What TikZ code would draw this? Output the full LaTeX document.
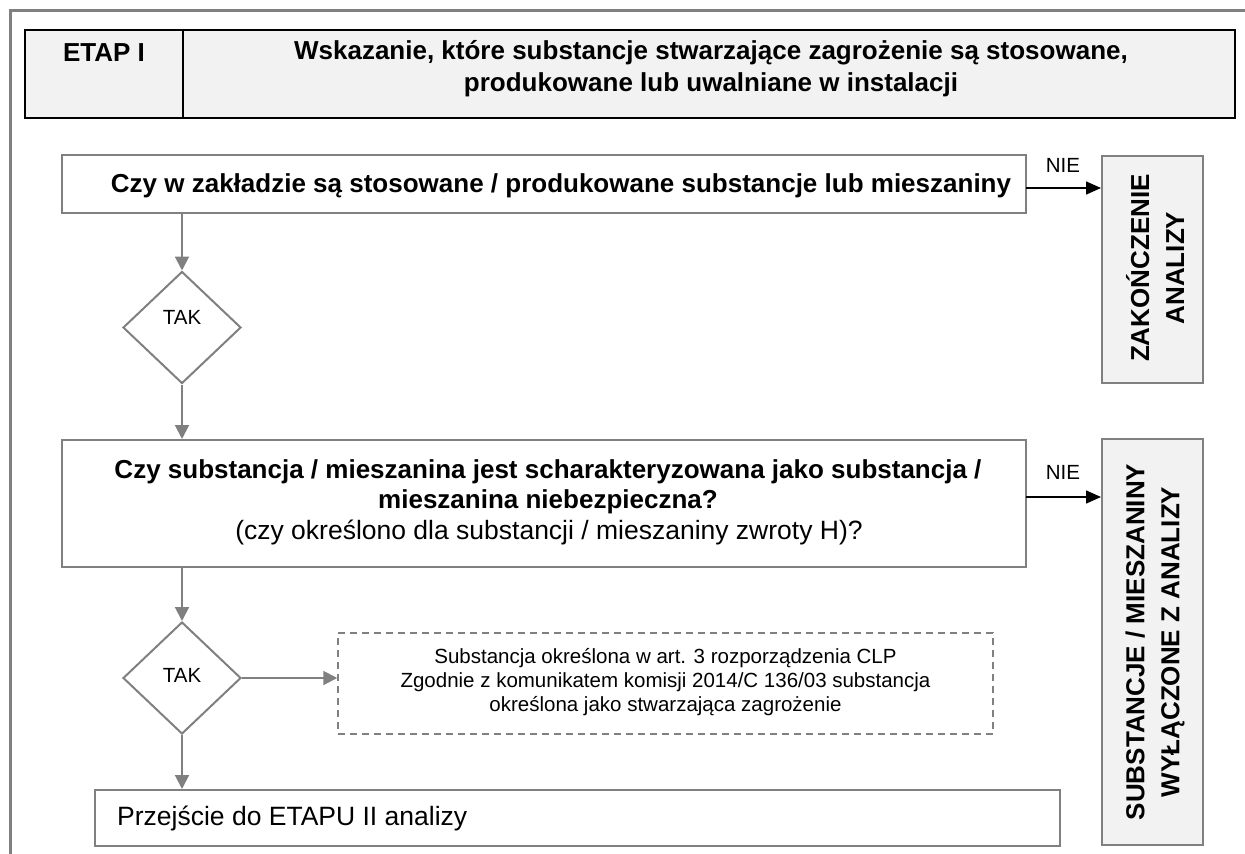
\documentclass[tikz,border=0pt]{standalone}
\usepackage{fontspec}
\setmainfont{Liberation Sans}
\usetikzlibrary{shapes.geometric,arrows.meta}
\definecolor{lg}{HTML}{F2F2F2}
\definecolor{gr}{HTML}{808080}
\tikzset{
  hdr/.style={draw=black,line width=2pt,fill=lg,inner sep=0pt,rectangle},
  gbox/.style={draw=gr,line width=2pt,fill=white,inner sep=0pt,rectangle},
  sbox/.style={draw=gr,line width=2pt,fill=lg,inner sep=0pt,rectangle},
  dbox/.style={draw=gr,line width=1.5pt,dash pattern=on 7pt off 5pt,inner sep=0pt,rectangle},
  dia/.style={draw=gr,line width=2pt,fill=white,diamond,inner sep=0pt,minimum width=118pt,minimum height=112pt},
  bigb/.style={font=\fontsize{26}{30.5}\selectfont\bfseries,inner sep=0pt,align=center},
  bign/.style={font=\fontsize{26.5}{30.5}\selectfont,inner sep=0pt,align=center},
  small/.style={font=\fontsize{20.5}{24}\selectfont,inner sep=0pt,align=center},
  tag/.style={font=\fontsize{20.5}{24}\selectfont,inner sep=0pt,align=center},
  rot/.style={font=\fontsize{26}{35}\selectfont\bfseries,inner sep=0pt,align=center,rotate=90},
  garrow/.style={draw=gr,line width=2pt,-{Triangle[width=14pt,length=14pt]}},
  barrow/.style={draw=black,line width=1.5pt,-{Triangle[width=13pt,length=15pt]}},
}
\begin{document}
\begin{tikzpicture}[x=1pt,y=-1pt]
\useasboundingbox (0,0) rectangle (1245,854);
\draw[gr,line width=3pt] (10,854) -- (10,10) -- (1245,10);
% header
\node[hdr,minimum width=158pt,minimum height=88pt] (h1) at (104,74) {};
\node[hdr,minimum width=1052pt,minimum height=88pt] (h2) at (709,74) {};
\node[bigb] (t1) at (104,53) {ETAP I};
\node[bigb,font=\fontsize{26}{32}\selectfont\bfseries] (t2) at (711,69) {Wskazanie, które substancje stwarzające zagrożenie są stosowane,\\produkowane lub uwalniane w instalacji};
% box 1
\node[gbox,minimum width=964pt,minimum height=58pt] (b1) at (544,184) {};
\node[bigb] (b1t) at (561,186) {Czy w zakładzie są stosowane / produkowane substancje lub mieszaniny};
% diamond 1
\node[dia] (d1) at (182,327.5) {};
\node[tag] (d1t) at (182,317) {TAK};
% box 2
\node[gbox,minimum width=964pt,minimum height=127pt] (b2) at (544,503.5) {};
\node[bigb] (b2t) at (548,487) {Czy substancja / mieszanina jest scharakteryzowana jako substancja /\\mieszanina niebezpieczna?};
\node[bign] (b2u) at (549,532) {(czy określono dla substancji / mieszaniny zwroty H)?};
% diamond 2
\node[dia] (d2) at (182,678) {};
\node[tag] (d2t) at (182,675) {TAK};
% dashed box
\node[dbox,minimum width=655pt,minimum height=101pt] (db) at (665.5,683.5) {};
\node[small] (dbt) at (665.5,682) {Substancja określona w art. 3 rozporządzenia CLP\\Zgodnie z komunikatem komisji 2014/C 136/03 substancja\\określona jako stwarzająca zagrożenie};
% box 3
\node[gbox,minimum width=965pt,minimum height=56pt] (b3) at (577.5,818) {};
\node[bign,anchor=west] (b3t) at (117,818) {Przejście do ETAPU II analizy};
% right boxes
\node[sbox,minimum width=101pt,minimum height=227pt] (z) at (1152.5,269.5) {};
\node[rot] (zt) at (1155,268) {ZAKOŃCZENIE\\ANALIZY};
\node[sbox,minimum width=101pt,minimum height=406pt] (s) at (1152.5,642) {};
\node[rot] (st) at (1155,642) {SUBSTANCJE / MIESZANINY\\WYŁĄCZONE Z ANALIZY};
% connectors
\draw[garrow] (d1.north |- b1.south) -- (d1.north);
\draw[garrow] (d1.south) -- (d1.south |- b2.north);
\draw[garrow] (d2.north |- b2.south) -- (d2.north);
\draw[garrow] (d2.east) -- (d2.east -| db.west);
\draw[garrow] (d2.south) -- (d2.south |- b3.north);
\coordinate (n1) at (1026,188);
\coordinate (n2) at (1026,497);
\draw[barrow] (n1) -- (n1 -| z.west);
\draw[barrow] (n2) -- (n2 -| s.west);
\node[tag] (nie1) at (1063,165) {NIE};
\node[tag] (nie2) at (1063,472) {NIE};
\end{tikzpicture}
\end{document}
